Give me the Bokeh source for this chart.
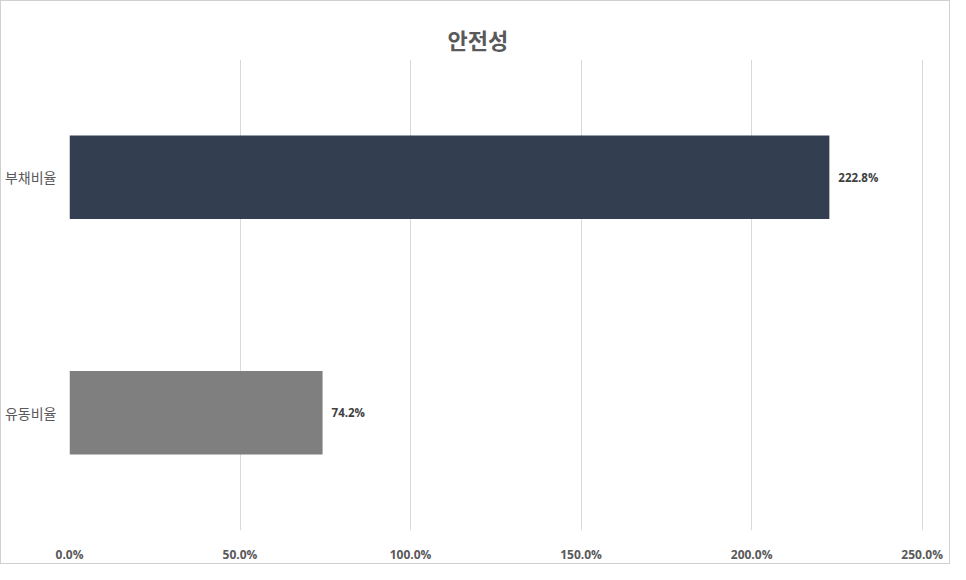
from bokeh.plotting import figure
from bokeh.models import FactorRange, Range1d, PrintfTickFormatter, ColumnDataSource, FixedTicker, Title
from bokeh.core.properties import value
from bokeh.embed import file_html
from bokeh.resources import INLINE

title_text = "안전성"
categories = ["부채비율", "유동비율"]
values = [222.8, 74.2]
colors = ["#333F50", "#7F7F7F"]
x_ticks = [0, 50, 100, 150, 200, 250]

labels = [f"{v:.1f}%" for v in values]
src = ColumnDataSource(dict(cat=categories, val=values, color=colors, label=labels))

W, H = 950, 564
BL, BR, BT, BB = 68, 28, 57, 27
p = figure(width=W, height=H, output_backend="svg", toolbar_location=None,
           y_range=FactorRange(factors=list(reversed(categories))),
           x_range=Range1d(0, 250.4),
           min_border_left=BL, min_border_right=BR, min_border_top=BT, min_border_bottom=BB)
p.styles = {"border": "1px solid #d0d0d0", "box-sizing": "border-box"}

p.title.text = " "
p.title.text_font_size = "11px"
p.title.standoff = 0
main_title = Title(text=title_text, align="left", offset=W / 2 - BL - 29,
                   text_font="Noto Sans CJK KR", text_font_size="22px",
                   text_font_style="bold", text_color="#595959")
p.add_layout(main_title, "above")

p.hbar(y="cat", right="val", left=0, height=0.355, color="color", source=src, line_color=None)
p.text(x="val", y="cat", text="label", source=src, x_offset=9, text_baseline="middle",
       text_align="left", text_font=value("Open Sans"), text_font_size="11.5px",
       text_font_style="bold", text_color="#404040")

p.outline_line_color = None
p.ygrid.grid_line_color = None
p.xgrid.grid_line_color = "#d9d9d9"
p.xgrid.grid_line_width = 1

p.xaxis.ticker = FixedTicker(ticks=x_ticks)
p.xaxis.formatter = PrintfTickFormatter(format="%.1f%%")
for ax in (p.xaxis, p.yaxis):
    ax.axis_line_color = None
    ax.major_tick_line_color = None
    ax.minor_tick_line_color = None
    ax.major_label_text_color = "#595959"
p.xaxis.major_label_text_font = "Open Sans"
p.xaxis.major_label_text_font_size = "12px"
p.xaxis.major_label_text_font_style = "bold"
p.xaxis.major_label_standoff = 9
p.yaxis.major_label_text_font = "Noto Sans CJK KR"
p.yaxis.major_label_text_font_size = "14px"
p.yaxis.major_label_standoff = 7

open("out.html", "w").write(file_html(p, INLINE))
